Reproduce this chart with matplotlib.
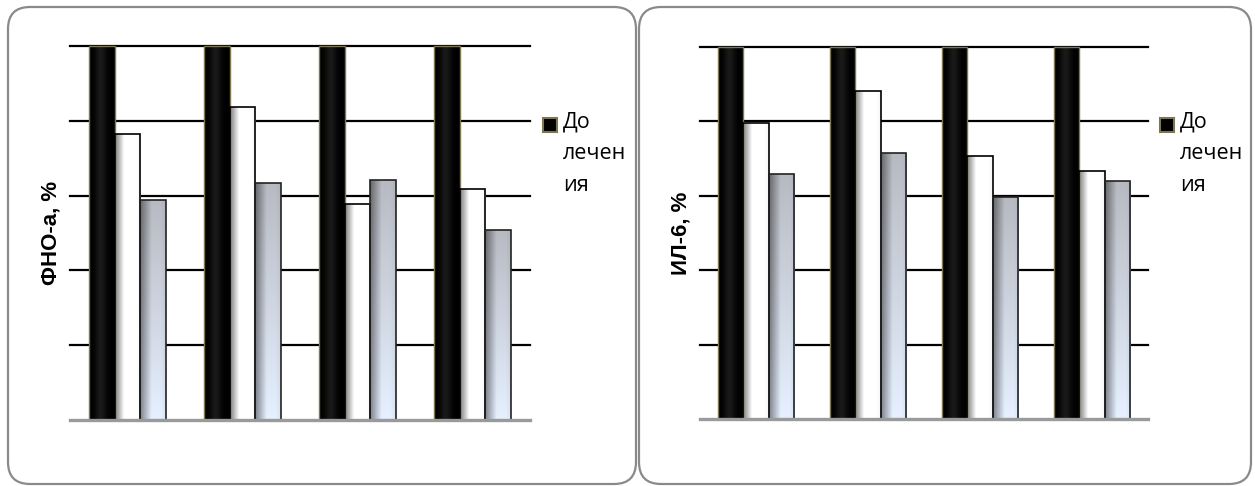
import matplotlib
matplotlib.use("Agg")
import matplotlib.pyplot as plt
import numpy as np
from matplotlib.patches import FancyBboxPatch, Rectangle

# values (% of pre-treatment level)
groups = ["1", "2", "3", "4"]
before = [100, 100, 100, 100]
tnf_after1 = [76.4, 83.6, 57.8, 61.7]
tnf_after2 = [58.7, 63.4, 64.2, 50.7]
il6_after1 = [79.7, 88.3, 70.6, 66.8]
il6_after2 = [65.9, 71.5, 59.8, 63.9]
legend_label = "До\nлечен\nия"
ylabels = ["ФНО-а, %", "ИЛ-6, %"]
grid_ticks = [20, 40, 60, 80, 100]

W, H = 1255, 486


def grad_black():
    x = np.linspace(0, 1, 64)
    v = 0.10 * np.exp(-((x - 0.45) / 0.22) ** 2)
    img = np.repeat(v[None, :, None], 2, axis=0)
    return np.repeat(img, 3, axis=2)


def grad_white():
    x = np.linspace(0, 1, 64)
    v = np.clip(0.5 + 0.5 * np.minimum(x / 0.35, 1.0), 0, 1)
    v = v - 0.04 * np.clip((x - 0.85) / 0.15, 0, 1)
    img = np.repeat(v[None, :, None], 2, axis=0)
    return np.repeat(img, 3, axis=2)


def grad_gray():
    x = np.linspace(0, 1, 64)
    y = np.linspace(0, 1, 64)[:, None]  # 0 = bottom row with origin='lower'
    top = np.array([0.72, 0.73, 0.76])
    bot = np.array([0.90, 0.94, 1.0])
    base = bot[None, None, :] * (1 - y[..., None]) + top[None, None, :] * y[..., None]
    shade = 0.55 + 0.45 * np.minimum(x / 0.45, 1.0)
    shade = shade - 0.05 * np.clip((x - 0.8) / 0.2, 0, 1)
    img = base * shade[None, :, None]
    return np.clip(img, 0, 1)


def draw_panel(ax, s1, s2, s3, ylabel):
    x = np.arange(len(groups))
    w = 0.225
    for yv in grid_ticks:
        ax.axhline(yv, color="black", lw=1.6, zorder=1, clip_on=False)
    specs = [
        (s1, -w, grad_black(), "#7d7650", 1.0),
        (s2, 0.0, grad_white(), "black", 1.2),
        (s3, w, grad_gray(), "#222222", 1.2),
    ]
    for vals, off, img, ec, lw in specs:
        bars = ax.bar(x + off, vals, width=w, facecolor="none", edgecolor=ec,
                      lw=lw, zorder=4, clip_on=False)
        for b in bars:
            x0, y0 = b.get_x(), b.get_y()
            im = ax.imshow(img, extent=[x0, x0 + b.get_width(), y0, y0 + b.get_height()],
                           origin="lower", aspect="auto", zorder=3, interpolation="bilinear")
            im.set_clip_path(b)
    ax.axhline(0, color="#9a9a9a", lw=2.4, zorder=5, clip_on=False)
    ax.set_xlim(-0.5, len(groups) - 0.5)
    ax.set_ylim(0, 100)
    ax.set_xticks([])
    ax.set_yticks([])
    for sp in ax.spines.values():
        sp.set_visible(False)
    ax.set_ylabel(ylabel, fontsize=16, fontweight="bold", family="Liberation Sans",
                  labelpad=6)


fig = plt.figure(figsize=(W / 100, H / 100), dpi=100)

# rounded frames around each chart (inch coords, y measured from bottom)
for (x0, x1) in [(8, 636), (639, 1251)]:
    fig.patches.append(FancyBboxPatch(
        (x0 / 100, (H - 484) / 100), (x1 - x0) / 100, (484 - 7) / 100,
        boxstyle="round,pad=0,rounding_size=0.22", transform=fig.dpi_scale_trans,
        facecolor="none", edgecolor="#8a8a8a", lw=1.6, zorder=0))

ax1 = fig.add_axes([70 / W, 66 / H, 460 / W, 374 / H])
ax2 = fig.add_axes([700 / W, 66.7 / H, 448 / W, 372.3 / H])
for a in (ax1, ax2):
    a.patch.set_visible(False)

draw_panel(ax1, before, tnf_after1, tnf_after2, ylabels[0])
draw_panel(ax2, before, il6_after1, il6_after2, ylabels[1])

# legend: square aligned with the first line of the wrapped label
for lx in (543, 1160):
    fig.patches.append(Rectangle((lx / W, (H - 132) / H), 14 / W, 14 / H,
                                 transform=fig.transFigure, facecolor="black",
                                 edgecolor="#7d7650", lw=1.5, zorder=6))
    fig.text((lx + 20) / W, (H - 111) / H, legend_label, fontsize=15.5,
             family="Open Sans", va="top", ha="left", linespacing=1.68)

fig.savefig("out.png", dpi=100)
